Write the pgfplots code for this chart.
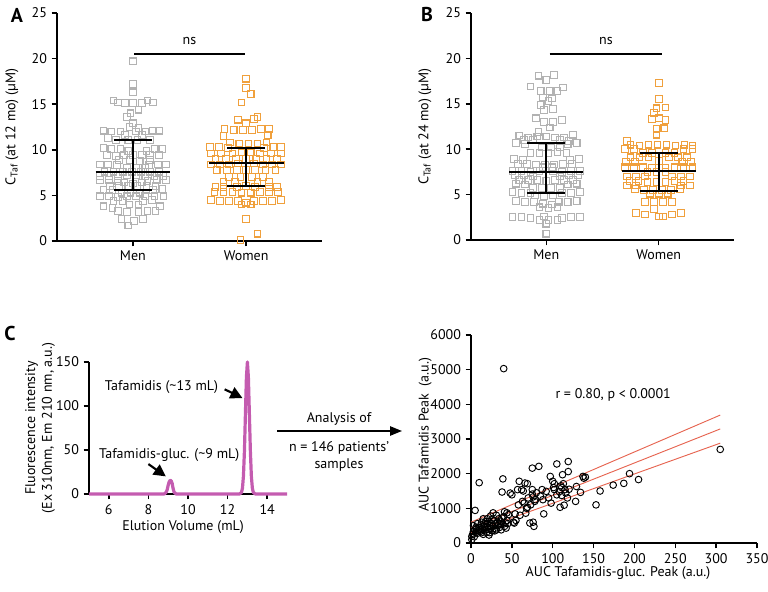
\documentclass[border=0pt]{standalone}
\usepackage{pgfplots}
\pgfplotsset{compat=1.18}
\usepackage{fontspec}
\setmainfont{PT Sans}
\usetikzlibrary{arrows.meta}
\definecolor{mengray}{RGB}{178,178,178}
\definecolor{womorange}{RGB}{240,160,60}
\definecolor{chromo}{RGB}{196,92,176}
\definecolor{regred}{RGB}{230,100,80}
\newcommand{\lblfont}{\fontsize{10.5}{12.5}\selectfont}
\pgfplotsset{
  gp/.style={
    axis lines=left,
    axis line style={-, line width=1.3pt},
    tick align=outside,
    major tick length=4pt,
    tick style={black, line width=1.1pt},
    tick label style={font=\lblfont},
    label style={font=\lblfont},
    /pgf/number format/assume math mode=true,
    /pgf/number format/1000 sep={},
    scaled ticks=false,
    scale only axis,
    clip=false,
  },
  swarm/.style={
    gp,
    xmin=0.33, xmax=2.67, ymin=0, ymax=25,
    xtick={1,2}, xticklabels={Men,Women},
    ytick={0,5,10,15,20,25},
  },
  overlay/.style={scale only axis, clip=false, hide axis, xmin=0.33, xmax=2.67, ymin=0, ymax=25},
  geomA/.style={at={(42.75pt,263.25pt)}, anchor=south west, width=198.75pt, height=171pt},
  geomB/.style={at={(353.25pt,264pt)}, anchor=south west, width=197.25pt, height=170.25pt},
  mmen/.style={only marks, mark=square, mark size=2.5pt, mark options={draw=mengray, line width=0.8pt, fill=none}},
  mwom/.style={only marks, mark=square, mark size=2.5pt, mark options={draw=womorange, line width=0.8pt, fill=none}},
  ebar/.style={black, line width=1.5pt, mark=none},
}
\begin{document}
\begin{tikzpicture}
\useasboundingbox (0pt,0pt) rectangle (576pt,444pt);

% ---------------- Panel A ----------------
\begin{axis}[swarm, geomA,
  ylabel={C\textsubscript{Taf} (at 12 mo) (µM)},
  ylabel style={at={(axis description cs:-0.17,0.5)}, anchor=center}]
\addplot[mmen] coordinates {
(1,19.7)(1,17.2)(1,16.3)
(0.83,15.4)(0.87,15.2)(1.13,15.4)(1.18,15.2)(0.93,15.1)(1.0,15.1)(1.08,15.1)
(1.05,14.4)(0.98,14.0)(0.95,13.6)
(1,12.9)(0.97,12.5)(1.05,12.4)
(0.74,12.1)(0.81,12.0)(0.89,12.0)(1.03,12.0)(1.11,12.0)(1.18,12.1)(1.23,12.1)
(0.93,11.6)(1.08,11.6)
(0.78,11.3)(0.85,11.1)(0.96,11.1)(1.04,11.1)(1.15,11.1)
(0.74,10.2)(0.81,10.1)(0.89,10.1)(1.19,10.1)(1.26,10.1)
(0.96,9.9)(1.12,9.9)
(0.77,9.4)(0.85,9.3)(0.92,9.4)(1.0,9.4)(1.08,9.4)(1.15,9.4)(1.23,9.4)
(0.88,8.9)(0.97,8.9)(1.06,8.8)(1.15,8.9)
(0.71,8.4)(0.78,8.4)(0.86,8.3)(1.14,8.3)(1.22,8.4)(1.29,8.4)
(0.95,8.0)(1.03,8.0)(1.11,8.0)
(0.75,7.6)(0.83,7.6)(0.91,7.6)(0.99,7.6)(1.07,7.6)(1.15,7.6)(1.23,7.6)
(0.71,7.1)(0.79,7.1)(0.87,7.1)(0.95,7.2)(1.03,7.2)(1.11,7.1)(1.19,7.1)(1.27,7.1)
(0.71,6.7)(0.79,6.7)(0.87,6.6)(1.13,6.6)(1.21,6.7)(1.29,6.7)
(0.92,6.4)(1.0,6.3)(1.08,6.4)
(0.8,6.0)(0.88,6.0)(0.96,6.0)(1.04,6.0)(1.12,6.0)(1.2,6.0)
(0.74,5.6)(0.82,5.6)(1.18,5.6)(1.26,5.7)
(0.9,5.3)(0.98,5.3)(1.06,5.3)
(0.71,4.9)(0.79,4.9)(0.87,4.8)(0.95,4.9)(1.03,4.9)(1.11,4.9)(1.19,4.9)(1.27,4.9)
(0.83,4.4)(0.91,4.4)(1.09,4.4)(1.17,4.5)
(0.97,4.0)(1.05,4.0)
(0.74,3.8)(0.82,3.6)(1.24,3.8)
(0.87,3.3)(0.95,3.2)(1.05,3.2)(1.13,3.3)(1.2,3.3)
(0.9,2.4)(1.01,2.2)(1.09,2.4)
(0.96,1.7)
};
\addplot[mwom] coordinates {
(2,17.8)(2,16.8)(2.04,16.1)(1.96,15.2)
(1.93,13.3)(2.07,13.4)(2.0,12.9)(2.1,13.6)
(1.81,12.3)(1.89,12.2)(1.97,12.2)(2.05,12.2)(2.13,12.3)(2.2,12.3)
(1.8,11.5)(2.19,11.6)
(1.86,10.8)(1.94,10.7)(2.02,10.7)(2.1,10.7)(2.18,10.8)
(1.68,10.3)(1.76,10.3)(1.84,10.2)(2.16,10.2)(2.24,10.3)(2.31,10.3)
(1.69,9.6)(1.78,9.6)(1.88,9.6)(1.96,9.7)(2.04,9.7)(2.12,9.6)(2.22,9.6)(2.31,9.6)
(1.73,9.0)(1.82,9.0)(1.91,9.0)(2.0,9.0)(2.09,9.0)(2.18,9.0)(2.27,9.0)
(1.69,8.4)(1.77,8.4)(1.85,8.4)(1.93,8.5)(2.07,8.5)(2.15,8.4)(2.23,8.4)(2.31,8.4)
(1.74,7.8)(1.83,7.8)(1.92,7.8)(2.0,7.8)(2.08,7.8)(2.17,7.8)(2.26,7.8)
(1.85,7.0)(1.95,7.0)(2.05,7.0)(2.15,7.0)
(1.8,6.5)(1.9,6.5)(2.1,6.5)(2.2,6.5)
(1.73,5.9)(1.8,5.9)(1.92,5.9)(2.0,6.0)(2.08,5.9)(2.2,5.9)(2.27,5.9)
(1.72,5.4)(1.8,5.4)(1.88,5.4)(1.96,5.3)(2.04,5.3)(2.12,5.4)(2.2,5.4)(2.28,5.4)
(1.69,4.5)(1.77,4.4)(1.85,4.4)(1.93,4.4)(2.0,4.2)(2.07,4.4)(2.15,4.4)(2.23,4.4)(2.31,4.5)
(1.96,4.0)(2.04,4.0)
(2,2.4)(2.1,0.8)(1.95,0.1)
};
\end{axis}
\begin{axis}[overlay, geomA]
\addplot[ebar] coordinates {(0.67,7.6)(1.33,7.6)};
\addplot[ebar] coordinates {(0.83,11.1)(1.17,11.1)};
\addplot[ebar] coordinates {(0.83,5.6)(1.17,5.6)};
\addplot[ebar] coordinates {(1,5.6)(1,11.1)};
\addplot[ebar] coordinates {(1.67,8.5)(2.33,8.5)};
\addplot[ebar] coordinates {(1.83,10.2)(2.17,10.2)};
\addplot[ebar] coordinates {(1.83,6.0)(2.17,6.0)};
\addplot[ebar] coordinates {(2,6.0)(2,10.2)};
\draw[black, line width=1.2pt] (axis cs:1.01,20.5) -- (axis cs:1.99,20.5);
\node[font=\lblfont] at (axis cs:1.5,21.9) {ns};
\end{axis}

% ---------------- Panel B ----------------
\begin{axis}[swarm, geomB,
  ylabel={C\textsubscript{Taf} (at 24 mo) (µM)},
  ylabel style={at={(axis description cs:-0.175,0.5)}, anchor=center}]
\addplot[mmen] coordinates {
(0.93,18.1)(1.07,18.2)(1.0,17.6)
(0.86,16.9)(1.15,16.8)
(0.95,16.4)(1.03,16.4)(1.1,16.4)
(0.97,15.7)(1.05,15.6)(1.02,15.3)(0.95,14.9)
(0.98,14.3)(1.06,14.4)
(0.91,13.4)(0.98,13.0)(1.06,13.0)(1.14,13.2)
(1.03,12.4)(0.93,11.9)
(0.76,11.5)(0.84,11.3)(0.92,11.4)(1.0,11.4)(1.08,11.3)(1.16,11.3)(1.24,11.6)
(0.8,11.0)(0.88,11.0)(1.12,11.0)(1.2,10.9)
(0.73,10.7)(0.81,10.6)(1.19,10.6)(1.27,10.7)
(0.96,10.2)(1.04,10.2)(1.12,10.2)
(0.86,9.6)(0.94,9.6)(1.02,9.6)(1.1,9.7)(1.18,9.6)
(0.71,8.9)(0.79,8.8)(1.21,8.8)(1.29,8.9)
(0.75,8.4)(0.83,8.4)(0.91,8.3)(0.99,8.3)(1.07,8.3)(1.15,8.4)(1.23,8.4)
(0.97,8.0)(1.05,8.0)
(0.7,7.6)(0.78,7.6)(0.86,7.5)(0.94,7.6)(1.06,7.6)(1.14,7.5)(1.22,7.6)(1.3,7.6)
(0.72,7.1)(0.8,7.1)(0.88,7.0)(1.12,7.0)(1.2,7.1)(1.28,7.1)
(0.76,6.6)(0.84,6.6)(0.92,6.6)(1.0,6.5)(1.08,6.6)(1.16,6.6)(1.24,6.6)
(0.73,6.2)(0.81,6.1)(1.19,6.1)(1.27,6.2)
(0.88,5.7)(0.96,5.7)(1.04,5.7)(1.12,5.7)
(0.7,5.3)(0.78,5.2)(0.86,5.2)(1.14,5.2)(1.22,5.2)(1.3,5.3)
(0.9,4.9)(0.98,4.8)(1.06,4.9)
(0.73,4.3)(0.81,4.2)(0.89,4.2)(1.11,4.2)(1.19,4.2)(1.27,4.3)
(0.97,4.0)(1.05,3.9)
(0.94,3.6)(1.02,3.5)(1.1,3.6)
(0.7,2.5)(0.78,2.5)(0.86,2.4)(0.94,2.2)(1.14,2.4)(1.22,2.5)(1.3,2.5)
(1.02,2.2)(1.1,2.2)(0.98,2.6)(1.0,1.8)
(1.0,0.7)
};
\addplot[mwom] coordinates {
(2,17.3)(2,15.5)(1.98,14.5)(2.06,14.6)(1.96,14.0)
(1.94,13.3)(2.0,13.4)(2.06,13.2)
(1.98,12.2)(2.05,12.3)(1.98,11.6)
(1.72,10.9)(1.75,10.5)(1.83,10.4)(1.91,10.5)(1.99,10.5)(2.07,10.5)(2.15,10.4)(2.23,10.5)(2.3,10.4)
(1.7,10.0)(1.78,10.0)(2.22,10.0)(2.3,10.0)
(1.86,9.6)(1.94,9.6)(2.06,9.6)(2.14,9.6)
(1.75,9.1)(1.83,9.1)(1.91,9.1)(2.09,9.1)(2.17,9.1)(2.25,9.1)
(1.71,8.6)(1.79,8.6)(2.0,8.7)(2.21,8.6)(2.29,8.6)
(1.7,8.0)(1.78,8.0)(1.86,8.0)(1.94,7.9)(2.06,7.9)(2.14,8.0)(2.22,8.0)(2.3,8.0)
(1.9,7.5)(1.98,7.5)(2.06,7.5)
(1.72,7.0)(1.8,7.0)(1.88,7.0)(2.12,7.0)(2.2,7.0)(2.28,7.0)
(1.74,6.5)(1.82,6.5)(1.9,6.4)(1.98,6.4)(2.06,6.4)(2.14,6.5)(2.22,6.5)
(1.72,6.0)(1.8,6.0)(2.2,6.0)(2.28,6.0)
(1.79,5.6)(1.87,5.5)(1.95,5.5)(2.03,5.5)(2.11,5.5)(2.19,5.6)
(1.92,5.1)(2.0,5.1)(2.08,5.1)
(1.88,4.2)(1.96,4.2)(2.04,4.2)(2.12,4.2)
(1.8,3.0)(1.88,2.8)(2.0,2.6)(2.12,2.8)(2.2,3.0)
(1.96,3.4)(2.04,2.6)
};
\end{axis}
\begin{axis}[overlay, geomB]
\addplot[ebar] coordinates {(0.67,7.5)(1.33,7.5)};
\addplot[ebar] coordinates {(0.83,10.65)(1.17,10.65)};
\addplot[ebar] coordinates {(0.83,5.15)(1.17,5.15)};
\addplot[ebar] coordinates {(1,5.15)(1,10.65)};
\addplot[ebar] coordinates {(1.67,7.55)(2.33,7.55)};
\addplot[ebar] coordinates {(1.83,9.55)(2.17,9.55)};
\addplot[ebar] coordinates {(1.83,5.45)(2.17,5.45)};
\addplot[ebar] coordinates {(2,5.45)(2,9.55)};
\draw[black, line width=1.2pt] (axis cs:1.03,20.5) -- (axis cs:2.03,20.5);
\node[font=\lblfont] at (axis cs:1.53,21.9) {ns};
\end{axis}

% ---------------- Panel C: chromatogram ----------------
\begin{axis}[gp, at={(66.75pt,73.5pt)}, anchor=south west, width=148.5pt, height=99pt,
  xmin=5, xmax=15, ymin=0, ymax=150,
  xtick={6,8,10,12,14}, ytick={0,50,100,150},
  xlabel={Elution Volume (mL)},
  xlabel style={at={(axis description cs:0.475,-0.25)}, anchor=center},
  ylabel={Fluorescence intensity\\(Ex 310nm, Em 210 nm, a.u.)},
  ylabel style={at={(axis description cs:-0.247,0.5)}, anchor=center, align=center}]
\addplot[chromo, line width=2.4pt, mark=none, line join=round] coordinates {
(5,0)(6,0)(7,0)(8,0)(8.8,0)(8.9,2)(8.95,5)(9.0,10)(9.05,14)(9.1,15.5)(9.15,15)(9.2,12)(9.25,6)(9.3,2)(9.4,0)
(10,0)(11,0)(12,0)(12.6,0)(12.7,1.7)(12.75,6.6)(12.8,20.3)(12.85,48.7)(12.9,90.9)(12.95,132.4)(13.0,150)
(13.05,132.4)(13.1,90.9)(13.15,48.7)(13.2,20.3)(13.25,6.6)(13.3,1.7)(13.4,0)(14,0)(15,0)
};
\node[font=\lblfont] at (axis cs:8.66,122) {Tafamidis (\textasciitilde13 mL)};
\node[font=\lblfont] at (axis cs:9.05,44) {Tafamidis-gluc. (\textasciitilde9 mL)};
\draw[line width=1.6pt, -{Triangle[length=9pt,width=9pt]}] (axis cs:11.85,119) -- (axis cs:12.75,109);
\draw[line width=1.6pt, -{Triangle[length=9pt,width=9pt]}] (axis cs:8.0,34) -- (axis cs:8.88,20);
\end{axis}

% middle arrow and text
\draw[line width=1.2pt, -{Triangle[length=9pt,width=7pt]}] (207.75pt,120.75pt) -- (301.5pt,120.75pt);
\node[font=\lblfont] at (254.25pt,129.5pt) {Analysis of};
\node[font=\lblfont] at (254.25pt,108pt) {n = 146 patients’};
\node[font=\lblfont] at (254.25pt,95.25pt) {samples};

% ---------------- Scatter ----------------
\begin{axis}[gp, at={(353.25pt,36.75pt)}, anchor=south west, width=214.5pt, height=156pt,
  xmin=0, xmax=350, ymin=0, ymax=6000,
  xtick={0,50,100,150,200,250,300,350}, ytick={0,1000,2000,3000,4000,5000,6000},
  xlabel={AUC Tafamidis-gluc. Peak (a.u.)},
  xlabel style={at={(axis description cs:0.514,-0.144)}, anchor=center},
  ylabel={AUC Tafamidis Peak\ \ (a.u.)},
  ylabel style={at={(axis description cs:-0.16,0.52)}, anchor=center}]
\addplot[only marks, mark=o, mark size=2.5pt, mark options={black, line width=0.7pt}] coordinates {
(1,100)(1,190)(2,250)(3,330)(4,180)(5,940)(5,380)(6,300)(7,420)(8,280)(9,350)(10,1740)(10,450)(11,330)
(12,520)(13,300)(13,600)(14,400)(15,250)(16,480)(17,560)(18,380)(18,620)(19,300)(20,480)(20,560)(21,400)
(22,230)(22,620)(23,500)(24,420)(24,780)(25,560)(26,350)(27,870)(27,480)(28,650)(29,420)(30,560)(31,380)
(32,600)(33,500)(34,700)(35,450)(36,630)(37,380)(38,1470)(38,720)(39,1850)(39,540)(40,5030)(40,760)
(41,480)(42,580)(43,430)(44,870)(45,560)
(3,500)(8,560)(15,700)(26,680)(31,800)(36,560)(44,650)(12,380)(17,440)(29,350)(34,560)(6,450)(20,700)
(23,300)(41,900)(46,820)
(48,1440)(50,1390)(52,600)(53,575)(54,840)(55,650)(57,1540)(58,1100)(59,1780)(60,800)(62,1540)(63,1200)
(64,1500)(65,1150)(66,1730)(67,860)(68,1000)(69,1710)(69,1030)(70,1300)(72,575)(73,1100)(75,2160)
(75,1540)(75,1410)(76,1330)(76,600)(77,480)(78,1200)(79,1250)(80,1450)(83,2210)(85,1350)(87,1540)
(88,1250)(89,840)(92,1490)(95,1300)(97,1920)(98,1150)(100,1780)(101,1600)(102,1710)(102,1540)(105,2280)
(105,1390)(108,1480)(109,1030)(110,1650)(111,1600)(111,1370)(112,1970)(113,1710)(114,1090)(115,1540)
(116,1440)(118,1300)(119,2350)(119,2060)(120,1550)
(128,1200)(129,1630)(134,1460)(137,1920)(138,1870)(140,1900)(153,1100)(158,1500)(174,1670)(187,1720)
(194,2000)(205,1830)(305,2700)
};
\addplot[regred, line width=0.7pt, mark=none] coordinates {(0,600)(305,3690)};
\addplot[regred, line width=0.7pt, mark=none] coordinates {(0,440)(305,3290)};
\addplot[regred, line width=0.7pt, mark=none] coordinates {(0,300)(305,2880)};
\node[font=\lblfont] at (axis cs:174,4270) {r = 0.80, p < 0.0001};
\end{axis}

% panel letters
\node[font=\bfseries\fontsize{15}{15}\selectfont] at (12.75pt,432.75pt) {A};
\node[font=\bfseries\fontsize{15}{15}\selectfont] at (320.25pt,432.75pt) {B};
\node[font=\bfseries\fontsize{15}{15}\selectfont] at (7.5pt,193.5pt) {C};
\end{tikzpicture}
\end{document}
